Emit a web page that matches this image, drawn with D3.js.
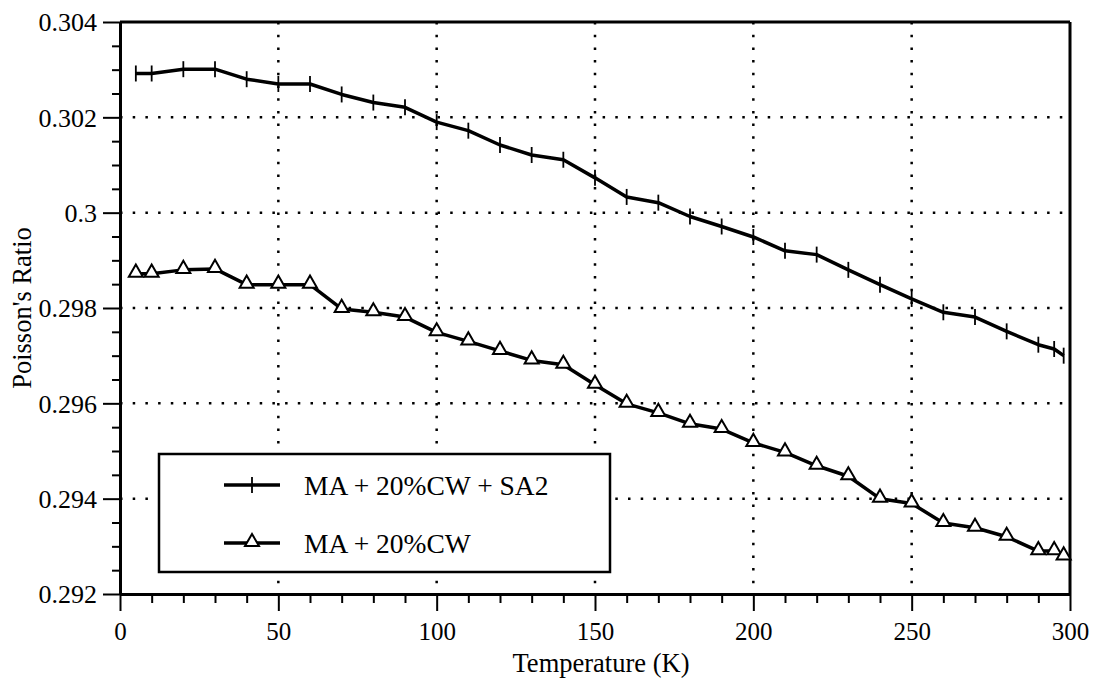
<!DOCTYPE html>
<html>
<head>
<meta charset="utf-8">
<script src="https://cdn.jsdelivr.net/npm/d3@7"></script>
<style>
  body { margin: 0; background: #fff; }
</style>
</head>
<body>
<div id="chart"></div>
<script>
// temperatures (K) and Poisson's ratio
var temps = [5, 10, 20, 30, 40, 50, 60, 70, 80, 90, 100, 110, 120, 130, 140, 150,
             160, 170, 180, 190, 200, 210, 220, 230, 240, 250, 260, 270, 280, 290, 295, 298];

var sa2Values = [0.30292, 0.30292, 0.30301, 0.30301, 0.30280, 0.30270, 0.30270, 0.30248,
                 0.30231, 0.30221, 0.30190, 0.30172, 0.30142, 0.30121, 0.30111, 0.30073,
                 0.30033, 0.30021, 0.29992, 0.29971, 0.29949, 0.29920, 0.29912, 0.29880,
                 0.29849, 0.29819, 0.29791, 0.29781, 0.29751, 0.29723, 0.29714, 0.29700];

var cwValues = [0.29872, 0.29872, 0.29880, 0.29882, 0.29849, 0.29849, 0.29849, 0.29798,
                0.29791, 0.29781, 0.29749, 0.29730, 0.29710, 0.29690, 0.29681, 0.29639,
                0.29599, 0.29580, 0.29557, 0.29546, 0.29517, 0.29497, 0.29469, 0.29447,
                0.29400, 0.29390, 0.29349, 0.29339, 0.29320, 0.29290, 0.29290, 0.29279];

var seriesNames = ["MA + 20%CW + SA2", "MA + 20%CW"];

var xTicks = [0, 50, 100, 150, 200, 250, 300];
var yTicks = [0.292, 0.294, 0.296, 0.298, 0.3, 0.302, 0.304];

var FONT = "'Liberation Serif', 'Times New Roman', serif";

var W = 1097, H = 687;
var margin = {top: 22, right: 27, bottom: 93, left: 120};
var width = W - margin.left - margin.right;
var height = H - margin.top - margin.bottom;

var svg = d3.select("#chart").append("svg")
  .attr("width", W).attr("height", H)
  .style("font-family", FONT);

var g = svg.append("g")
  .attr("transform", "translate(" + margin.left + "," + margin.top + ")");

var x = d3.scaleLinear().domain([0, 300]).range([0, width]);
var y = d3.scaleLinear().domain([0.292, 0.304]).range([height, 0]);

// dotted grid
g.selectAll(".vgrid")
  .data(xTicks.slice(1, -1))
  .enter().append("line")
  .attr("x1", d => x(d)).attr("x2", d => x(d))
  .attr("y1", 0).attr("y2", height)
  .attr("stroke", "#000").attr("stroke-width", 2.5)
  .attr("stroke-dasharray", "2.5,10.2");

g.selectAll(".hgrid")
  .data(yTicks.slice(1, -1))
  .enter().append("line")
  .attr("x1", 0).attr("x2", width)
  .attr("y1", d => y(d)).attr("y2", d => y(d))
  .attr("stroke", "#000").attr("stroke-width", 2.5)
  .attr("stroke-dasharray", "2.5,10.2");

// minor ticks
var xMinor = d3.range(0, 301, 10).filter(d => xTicks.indexOf(d) < 0);
var yMinor = d3.range(0, 25).map(i => 0.292 + i * 0.0005).filter(d => !yTicks.some(t => Math.abs(t - d) < 1e-7));

g.append("g")
  .attr("transform", "translate(0," + height + ")")
  .call(d3.axisBottom(x).tickValues(xMinor).tickSize(9).tickFormat(""))
  .call(a => a.select(".domain").remove())
  .selectAll("line").attr("stroke-width", 2);

g.append("g")
  .call(d3.axisLeft(y).tickValues(yMinor).tickSize(8).tickFormat(""))
  .call(a => a.select(".domain").remove())
  .selectAll("line").attr("stroke-width", 2);

// major axes
var xAxis = g.append("g")
  .attr("transform", "translate(0," + height + ")")
  .call(d3.axisBottom(x).tickValues(xTicks).tickSize(17).tickSizeOuter(0));
xAxis.attr("font-family", FONT);
xAxis.select(".domain").attr("stroke-width", 3);
xAxis.selectAll("line").attr("stroke-width", 2);
xAxis.selectAll("text")
  .attr("y", 46).attr("dy", 0)
  .attr("font-family", FONT)
  .attr("font-size", 25);

var yAxis = g.append("g")
  .call(d3.axisLeft(y).tickValues(yTicks).tickSize(17).tickSizeOuter(0)
    .tickFormat(d => d3.format("")(+d.toFixed(3))));
yAxis.attr("font-family", FONT);
yAxis.select(".domain").attr("stroke-width", 3);
yAxis.selectAll("line").attr("stroke-width", 2);
yAxis.selectAll("text")
  .attr("x", -23).attr("dy", "0.34em")
  .attr("font-family", FONT)
  .attr("font-size", 26);

// top and right frame
g.append("line").attr("x1", 0).attr("x2", width).attr("y1", 0).attr("y2", 0)
  .attr("stroke", "#000").attr("stroke-width", 3);
g.append("line").attr("x1", width).attr("x2", width).attr("y1", 0).attr("y2", height)
  .attr("stroke", "#000").attr("stroke-width", 3);

// series lines
var line = d3.line()
  .x((d, i) => x(temps[i]))
  .y(d => y(d));

g.append("path").datum(sa2Values)
  .attr("d", line)
  .attr("fill", "none").attr("stroke", "#000")
  .attr("stroke-width", 3.5).attr("stroke-linejoin", "round");

g.append("path").datum(cwValues)
  .attr("d", line)
  .attr("fill", "none").attr("stroke", "#000")
  .attr("stroke-width", 3.5).attr("stroke-linejoin", "round");

// plus markers (vertical bar through the line)
g.selectAll(".plus")
  .data(sa2Values)
  .enter().append("line")
  .attr("x1", (d, i) => x(temps[i])).attr("x2", (d, i) => x(temps[i]))
  .attr("y1", d => y(d) - 8).attr("y2", d => y(d) + 8)
  .attr("stroke", "#000").attr("stroke-width", 1.8);

// triangle markers
var tri = d3.symbol().type(d3.symbolTriangle).size(85);
g.selectAll(".tri")
  .data(cwValues)
  .enter().append("path")
  .attr("d", tri)
  .attr("transform", (d, i) => "translate(" + x(temps[i]) + "," + (y(d) - 1) + ")")
  .attr("fill", "#fff").attr("stroke", "#000").attr("stroke-width", 2);

// axis titles
svg.append("text")
  .attr("x", 601).attr("y", 672)
  .attr("text-anchor", "middle")
  .attr("font-family", FONT)
  .attr("font-size", 26.5)
  .text("Temperature (K)");

svg.append("text")
  .attr("transform", "translate(31,308) rotate(-90)")
  .attr("text-anchor", "middle")
  .attr("font-family", FONT)
  .attr("font-size", 26.5)
  .text("Poisson's Ratio");

// legend
var leg = svg.append("g");
leg.append("rect")
  .attr("x", 159).attr("y", 454).attr("width", 451).attr("height", 118)
  .attr("fill", "#fff").attr("stroke", "#000").attr("stroke-width", 2.5);

var rows = [485, 543];
rows.forEach(function(ry, i) {
  leg.append("line")
    .attr("x1", 224).attr("x2", 280).attr("y1", ry).attr("y2", ry)
    .attr("stroke", "#000").attr("stroke-width", 3.5);
  if (i === 0) {
    leg.append("line")
      .attr("x1", 252).attr("x2", 252).attr("y1", ry - 8).attr("y2", ry + 8)
      .attr("stroke", "#000").attr("stroke-width", 1.8);
  } else {
    leg.append("path")
      .attr("d", tri)
      .attr("transform", "translate(252," + (ry - 1) + ")")
      .attr("fill", "#fff").attr("stroke", "#000").attr("stroke-width", 2);
  }
  leg.append("text")
    .attr("x", 304).attr("y", ry).attr("dy", "0.35em")
    .attr("font-family", FONT)
    .attr("font-size", 27.5)
    .text(seriesNames[i]);
});
</script>
</body>
</html>
